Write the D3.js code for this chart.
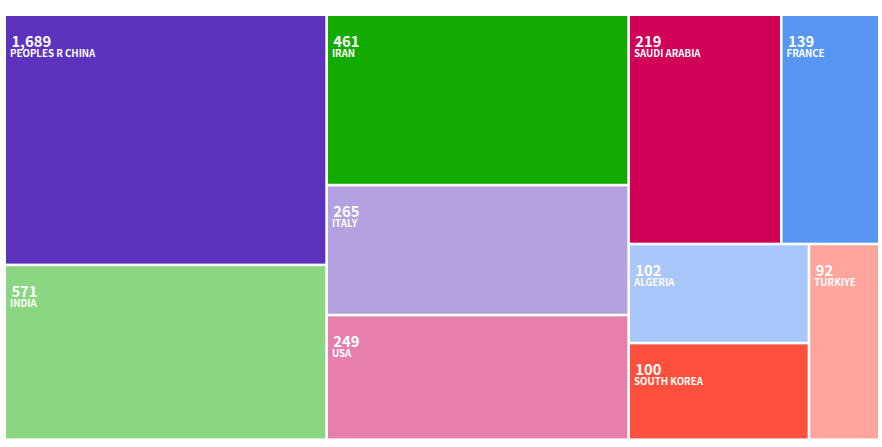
<!DOCTYPE html>
<html>
<head>
<meta charset="utf-8">
<script src="https://cdn.jsdelivr.net/npm/d3@7"></script>
<style>
  html, body { margin: 0; padding: 0; background: #fff; }
  text { font-family: "Noto Sans CJK SC", "Noto Sans", sans-serif; fill: #fff; }
  .value { font-size: 14.8px; font-weight: 700; }
  .name { font-size: 9.7px; font-weight: 700; }
</style>
</head>
<body>
<svg id="chart" width="882" height="447"></svg>
<script>
const countries = ['PEOPLES R CHINA', 'INDIA', 'IRAN', 'ITALY', 'USA', 'SAUDI ARABIA', 'FRANCE', 'ALGERIA', 'SOUTH KOREA', 'TURKIYE'];
const counts = [1689, 571, 461, 265, 249, 219, 139, 102, 100, 92];
const colors = ['#5c33bc', '#8bd682', '#13aa02', '#b3a1e0', '#e67fab', '#d10056', '#5896f6', '#a9c7fa', '#ff4f3d', '#ffa59e'];
// cell sizes as seen in the picture, they do not follow the counts
const tileSizes = [80450, 56200, 51400, 39200, 37600, 34950, 22450, 17850, 17400, 13750];

const W = 882, H = 447;
const item = i => ({ name: countries[i], count: counts[i], color: colors[i], size: tileSizes[i] });

// columns > rows > cells, slice-dice alternates by depth
const tree = {
  children: [
    { children: [item(0), item(1)] },
    { children: [item(2), item(3), item(4)] },
    { children: [
      { children: [item(5), item(6)] },
      { children: [
        { children: [item(7), item(8)] },
        item(9)
      ] }
    ] }
  ]
};

const root = d3.hierarchy(tree).sum(d => d.size || 0);

// outer margins only on the root
d3.treemap()
  .tile(d3.treemapSliceDice)
  .size([W, H])
  .paddingInner(2.6)
  .paddingTop(d => d.depth ? 0 : 16)
  .paddingLeft(d => d.depth ? 0 : 6)
  .paddingRight(d => d.depth ? 0 : 4)
  .paddingBottom(d => d.depth ? 0 : 8.6)(root);

const cell = d3.select('#chart').selectAll('g')
  .data(root.leaves())
  .join('g')
  .attr('transform', d => `translate(${d.x0},${d.y0})`);

cell.append('rect')
  .attr('width', d => d.x1 - d.x0)
  .attr('height', d => d.y1 - d.y0)
  .attr('fill', d => d.data.color);

cell.append('text')
  .attr('class', 'value')
  .attr('x', 5.4)
  .attr('y', 30.5)
  .text(d => d3.format(',')(d.data.count));

cell.append('text')
  .attr('class', 'name')
  .attr('x', 4)
  .attr('y', 40.5)
  .text(d => d.data.name);
</script>
</body>
</html>
